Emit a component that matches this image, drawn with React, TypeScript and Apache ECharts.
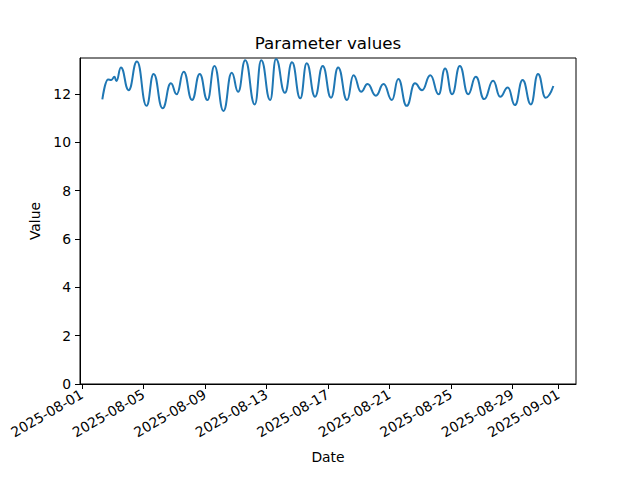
import React, { useEffect, useRef } from "react";
import * as echarts from "echarts";

const times: string[] = [
  "2025-08-02 08:00", "2025-08-02 17:00", "2025-08-02 22:00", "2025-08-03 03:00", "2025-08-03 06:00",
  "2025-08-03 13:00", "2025-08-04 01:00", "2025-08-04 14:00", "2025-08-05 05:00", "2025-08-05 16:00",
  "2025-08-06 06:00", "2025-08-06 19:00", "2025-08-07 04:00", "2025-08-07 15:00", "2025-08-08 04:00",
  "2025-08-08 16:00", "2025-08-09 04:00", "2025-08-09 15:00", "2025-08-10 05:00", "2025-08-10 18:00",
  "2025-08-11 04:00", "2025-08-11 15:00", "2025-08-12 06:00", "2025-08-12 16:00", "2025-08-13 06:00",
  "2025-08-13 15:00", "2025-08-14 05:00", "2025-08-14 16:00", "2025-08-15 05:00", "2025-08-15 15:00",
  "2025-08-16 04:00", "2025-08-16 16:00", "2025-08-17 05:00", "2025-08-17 16:00", "2025-08-18 06:00",
  "2025-08-18 16:00", "2025-08-19 04:00", "2025-08-19 14:00", "2025-08-20 03:00", "2025-08-20 15:00",
  "2025-08-21 04:00", "2025-08-21 14:00", "2025-08-22 03:00", "2025-08-22 16:00", "2025-08-23 03:00",
  "2025-08-23 16:00", "2025-08-24 05:00", "2025-08-24 15:00", "2025-08-25 02:00", "2025-08-25 14:00",
  "2025-08-26 03:00", "2025-08-26 15:00", "2025-08-27 04:00", "2025-08-27 18:00", "2025-08-28 05:00",
  "2025-08-28 17:00", "2025-08-29 04:00", "2025-08-29 16:00", "2025-08-30 05:00", "2025-08-30 16:00",
  "2025-08-31 04:00", "2025-08-31 16:00",
];

const values: number[] = [
  11.78, 12.6, 12.58, 12.71, 12.54,
  13.1, 12.16, 13.34, 11.51, 12.83,
  11.41, 12.44, 11.99, 12.92, 11.75,
  12.83, 11.75, 13.16, 11.3, 12.88,
  12.09, 13.4, 11.57, 13.4, 11.75,
  13.45, 12.05, 13.31, 11.82, 13.27,
  11.89, 13.16, 11.85, 13.1, 11.75,
  12.78, 12.09, 12.41, 11.93, 12.41,
  11.75, 12.62, 11.51, 12.44, 12.16,
  12.78, 11.99, 13.06, 11.99, 13.16,
  11.99, 12.71, 11.79, 12.55, 11.89,
  12.27, 11.54, 12.58, 11.57, 12.83,
  11.85, 12.33,
];

const xTickLabels: string[] = [
  "2025-08-01", "2025-08-05", "2025-08-09", "2025-08-13", "2025-08-17",
  "2025-08-21", "2025-08-25", "2025-08-29", "2025-09-01",
];

const yTicks: number[] = [0, 2, 4, 6, 8, 10, 12];

const parseT = (s: string) => Date.parse(s.replace(" ", "T") + ":00Z");
const DAY = 86400000;
const pad = (n: number) => (n < 10 ? "0" + n : "" + n);
const fmtDate = (ms: number) => {
  const d = new Date(ms);
  return d.getUTCFullYear() + "-" + pad(d.getUTCMonth() + 1) + "-" + pad(d.getUTCDate());
};

export default function App() {
  const ref = useRef<HTMLDivElement>(null);
  useEffect(() => {
    if (!ref.current) return;
    const chart = echarts.init(ref.current, undefined, { renderer: "svg" });
    const font = "DejaVu Sans";
    const tickVals = xTickLabels.map((s) => parseT(s + " 00:00"));
    const xMin = tickVals[0] - 0.12 * DAY;
    const xMax = tickVals[0] + 32.14 * DAY;
    chart.setOption({
      animation: false,
      textStyle: { fontFamily: font },
      title: {
        text: "Parameter values",
        left: 328,
        top: 34,
        padding: 0,
        textAlign: "center",
        textStyle: { fontFamily: font, fontSize: 16.7, fontWeight: "normal", color: "#000" },
      },
      grid: {
        left: 80,
        right: 64,
        top: 58,
        bottom: 96,
        show: true,
        borderColor: "#000",
        borderWidth: 1,
        backgroundColor: "transparent",
      },
      xAxis: {
        type: "value",
        min: xMin,
        max: xMax,
        name: "Date",
        nameLocation: "middle",
        nameGap: 66,
        nameTextStyle: { fontFamily: font, fontSize: 13.9, color: "#000" },
        axisLine: { show: true, lineStyle: { color: "#000", width: 1 } },
        axisTick: { show: true, length: 5, lineStyle: { color: "#000" }, customValues: tickVals },
        axisLabel: {
          customValues: tickVals,
          formatter: (v: number) => fmtDate(v),
          rotate: 30,
          margin: 9,
          fontFamily: font,
          fontSize: 13.9,
          color: "#000",
        },
        splitLine: { show: false },
      },
      yAxis: {
        type: "value",
        min: 0,
        max: 13.49,
        name: "Value",
        nameLocation: "middle",
        nameGap: 35,
        nameTextStyle: { fontFamily: font, fontSize: 13.9, color: "#000" },
        axisLine: { show: true, lineStyle: { color: "#000", width: 1 } },
        axisTick: { show: true, length: 5, lineStyle: { color: "#000" }, customValues: yTicks },
        axisLabel: {
          customValues: yTicks,
          margin: 9,
          fontFamily: font,
          fontSize: 13.9,
          color: "#000",
        },
        splitLine: { show: false },
      },
      series: [
        {
          type: "line",
          data: times.map((t, i) => [parseT(t), values[i]]),
          showSymbol: false,
          smooth: 0.5,
          smoothMonotone: "x",
          lineStyle: { color: "#1f77b4", width: 2 },
          itemStyle: { color: "#1f77b4" },
        },
      ],
    });
    return () => chart.dispose();
  }, []);
  return <div ref={ref} style={{ width: 640, height: 480, position: "absolute", left: 0, top: 0 }} />;
}
